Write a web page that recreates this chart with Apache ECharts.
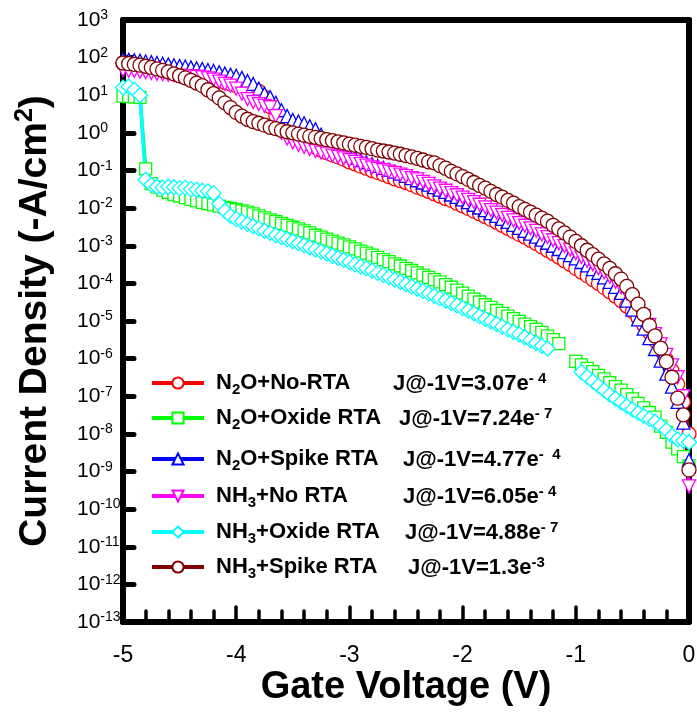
<!DOCTYPE html>
<html>
<head>
<meta charset="utf-8">
<title>Current Density vs Gate Voltage</title>
<script src="https://cdn.jsdelivr.net/npm/echarts@6/dist/echarts.min.js"></script>
<style>
  html, body { margin: 0; padding: 0; background: #fff; }
  #chart { width: 697px; height: 713px; }
</style>
</head>
<body>
<div id="chart"></div>
<script>
/* ---------- data (A/cm2) ---------- */
const voltage = [
  -5.00, -4.95, -4.90, -4.85, -4.80, -4.75, -4.70, -4.65, -4.60, -4.55,
  -4.50, -4.45, -4.40, -4.35, -4.30, -4.25, -4.20, -4.15, -4.10, -4.05,
  -4.00, -3.95, -3.90, -3.85, -3.80, -3.75, -3.70, -3.65, -3.60, -3.55,
  -3.50, -3.45, -3.40, -3.35, -3.30, -3.25, -3.20, -3.15, -3.10, -3.05,
  -3.00, -2.95, -2.90, -2.85, -2.80, -2.75, -2.70, -2.65, -2.60, -2.55,
  -2.50, -2.45, -2.40, -2.35, -2.30, -2.25, -2.20, -2.15, -2.10, -2.05,
  -2.00, -1.95, -1.90, -1.85, -1.80, -1.75, -1.70, -1.65, -1.60, -1.55,
  -1.50, -1.45, -1.40, -1.35, -1.30, -1.25, -1.20, -1.15, -1.10, -1.05,
  -1.00, -0.95, -0.90, -0.85, -0.80, -0.75, -0.70, -0.65, -0.60, -0.55,
  -0.50, -0.45, -0.40, -0.35, -0.30, -0.25, -0.20, -0.15, -0.10, -0.05,
  0
];

const n2oNoRta = [
  71, 68, 65, 62, 59, 56, 54, 51, 49, 46,
  43, 40, 37, 35, 32, 29, 26, 24, 22, 20,
  18, 17, 15, 14, 12.6, 8.9, 5.0, 2.8, 1.8, 1.26,
  0.95, 0.76, 0.60, 0.50, 0.42, 0.35, 0.30, 0.26, 0.23, 0.20,
  0.17, 0.15, 0.13, 0.115, 0.10, 0.089, 0.079, 0.069, 0.060, 0.054,
  0.048, 0.042, 0.036, 0.032, 0.028, 0.024, 0.021, 0.018, 0.016, 0.0135,
  0.0115, 9.8e-3, 8.3e-3, 7.1e-3, 6.0e-3, 5.0e-3, 4.2e-3, 3.5e-3, 2.9e-3, 2.4e-3,
  2.0e-3, 1.7e-3, 1.4e-3, 1.15e-3, 9.3e-4, 7.6e-4, 6.2e-4, 5.0e-4, 4.0e-4, 3.2e-4,
  2.5e-4, 2.0e-4, 1.6e-4, 1.26e-4, 1.0e-4, 7.8e-5, 6.0e-5, 4.6e-5, 3.5e-5, 2.5e-5,
  1.8e-5, 1.2e-5, 7.9e-6, 5.0e-6, 3.0e-6, 1.7e-6, 9.5e-7, 4.8e-7, 2.1e-7, 7.1e-8,
  1.0e-8
];

const n2oOxideRta = [
  9.5, 9.2, 9.0, 8.8, 0.11, 0.045, 0.036, 0.030, 0.026, 0.023,
  0.021, 0.019, 0.017, 0.0155, 0.0142, 0.0132, 0.0122, 0.0113, 0.0105, 0.0098,
  0.0092, 0.0085, 0.0078, 0.0070, 0.0062, 0.0055, 0.0049, 0.0044, 0.0039, 0.0035,
  0.0031, 0.0028, 0.0025, 0.0022, 0.0019, 0.0017, 1.5e-3, 1.32e-3, 1.17e-3, 1.05e-3,
  9.3e-4, 8.3e-4, 7.2e-4, 6.4e-4, 5.6e-4, 4.9e-4, 4.3e-4, 3.8e-4, 3.3e-4, 2.9e-4,
  2.5e-4, 2.2e-4, 1.9e-4, 1.66e-4, 1.45e-4, 1.26e-4, 1.1e-4, 9.3e-5, 7.9e-5, 6.6e-5,
  5.5e-5, 4.6e-5, 3.8e-5, 3.2e-5, 2.7e-5, 2.3e-5, 1.9e-5, 1.6e-5, 1.35e-5, 1.15e-5,
  9.8e-6, 8.3e-6, 7.1e-6, 6.0e-6, 5.0e-6, 4.0e-6, 3.2e-6, 2.5e-6, null, null,
  8.5e-7, 6.8e-7, 5.5e-7, 4.5e-7, 3.6e-7, 2.9e-7, 2.3e-7, 1.8e-7, 1.45e-7, 1.1e-7,
  8.5e-8, 6.5e-8, 4.9e-8, 3.7e-8, 2.8e-8, 1.6e-8, 1.1e-8, 6.0e-9, 4.0e-9, 2.5e-9,
  1.4e-9
];

const n2oSpikeRta = [
  89, 87, 85, 83, 79, 76, 72, 69, 66, 63,
  60, 58, 55, 52, 50, 47, 44, 41, 38, 35,
  33, 29, 24, 20, 15, 11, 8.9, 6.3, 4.0, 2.8,
  2.2, 2.0, 1.8, 1.5, 1.26, 0.89, 0.63, 0.48, 0.38, 0.30,
  0.25, 0.22, 0.19, 0.166, 0.148, 0.132, 0.117, 0.105, 0.093, 0.083,
  0.072, 0.063, 0.055, 0.048, 0.042, 0.036, 0.031, 0.027, 0.023, 0.020,
  0.017, 0.0145, 0.0123, 0.0104, 8.8e-3, 7.4e-3, 6.2e-3, 5.2e-3, 4.3e-3, 3.6e-3,
  3.0e-3, 2.5e-3, 2.1e-3, 1.75e-3, 1.45e-3, 1.2e-3, 1.0e-3, 8.2e-4, 6.8e-4, 5.6e-4,
  4.6e-4, 3.7e-4, 3.0e-4, 2.4e-4, 1.9e-4, 1.45e-4, 1.1e-4, 8.1e-5, 5.6e-5, 3.5e-5,
  2.0e-5, 1.1e-5, 6.3e-6, 3.5e-6, 1.8e-6, 8.9e-7, 4.0e-7, 1.8e-7, 7.1e-8, 2.0e-8,
  2.0e-9
];

const nh3NoRta = [
  47, 45, 44, 42, 41, 39, 37, 36, 35, 34,
  33, 32, 32, 31, 30, 28, 26, 23, 20, 18,
  15, 11, 7.9, 6.6, 5.8, 5.2, 4.8, 2.8, 1.0, 0.71,
  0.56, 0.48, 0.42, 0.37, 0.33, 0.30, 0.28, 0.25, 0.23, 0.21,
  0.19, 0.17, 0.15, 0.135, 0.12, 0.11, 0.102, 0.093, 0.087, 0.078,
  0.071, 0.063, 0.058, 0.050, 0.044, 0.038, 0.033, 0.029, 0.025, 0.022,
  0.019, 0.0166, 0.0145, 0.0123, 0.0105, 8.9e-3, 7.6e-3, 6.5e-3, 5.5e-3, 4.7e-3,
  4.0e-3, 3.4e-3, 2.9e-3, 2.5e-3, 2.0e-3, 1.7e-3, 1.4e-3, 1.17e-3, 9.8e-4, 7.9e-4,
  6.3e-4, 5.0e-4, 4.0e-4, 3.2e-4, 2.5e-4, 1.95e-4, 1.5e-4, 1.1e-4, 7.9e-5, 5.4e-5,
  3.5e-5, 2.2e-5, 1.35e-5, 7.9e-6, 4.5e-6, 2.4e-6, 1.26e-6, 6.6e-7, 3.2e-7, 1.0e-7,
  4.0e-10
];

const nh3OxideRta = [
  16, 17, 14, 10, 0.057, 0.042, 0.037, 0.035, 0.037, 0.036,
  0.034, 0.035, 0.032, 0.031, 0.029, 0.028, 0.025, 0.013, 0.0085, 0.0062,
  0.0051, 0.0044, 0.0038, 0.0033, 0.0029, 0.0025, 0.0022, 0.0019, 0.0017, 0.0015,
  1.32e-3, 1.17e-3, 1.03e-3, 9.1e-4, 8.0e-4, 7.0e-4, 6.2e-4, 5.4e-4, 4.8e-4, 4.2e-4,
  3.7e-4, 3.2e-4, 2.8e-4, 2.5e-4, 2.2e-4, 1.9e-4, 1.66e-4, 1.45e-4, 1.26e-4, 1.1e-4,
  9.5e-5, 8.3e-5, 7.2e-5, 6.3e-5, 5.4e-5, 4.7e-5, 4.0e-5, 3.5e-5, 3.0e-5, 2.6e-5,
  2.2e-5, 1.9e-5, 1.6e-5, 1.35e-5, 1.15e-5, 9.8e-6, 8.3e-6, 7.1e-6, 6.0e-6, 5.1e-6,
  4.4e-6, 3.7e-6, 3.1e-6, 2.6e-6, 2.2e-6, 1.85e-6, null, null, null, null,
  null, 4.4e-7, 3.3e-7, 2.5e-7, 1.9e-7, 1.45e-7, 1.1e-7, 8.7e-8, 6.9e-8, 5.5e-8,
  4.5e-8, 3.6e-8, 3.0e-8, 2.5e-8, 2.1e-8, 1.66e-8, 1.26e-8, 8.9e-9, 7.2e-9, 6.6e-9,
  6.0e-9
];

const nh3SpikeRta = [
  72, 69, 66, 63, 59, 55, 50, 46, 42, 37,
  33, 29, 25, 21, 18, 14, 11, 8.5, 6.3, 4.7,
  3.5, 2.8, 2.3, 2.0, 1.8, 1.6, 1.4, 1.3, 1.17, 1.07,
  1.0, 0.93, 0.87, 0.81, 0.76, 0.71, 0.66, 0.62, 0.58, 0.54,
  0.50, 0.47, 0.44, 0.41, 0.38, 0.35, 0.33, 0.31, 0.29, 0.27,
  0.25, 0.23, 0.21, 0.19, 0.17, 0.16, 0.135, 0.115, 0.095, 0.081,
  0.069, 0.058, 0.048, 0.040, 0.034, 0.028, 0.023, 0.0195, 0.016, 0.0135,
  0.011, 9.3e-3, 7.8e-3, 6.5e-3, 5.4e-3, 4.5e-3, 3.5e-3, 2.8e-3, 2.2e-3, 1.7e-3,
  1.3e-3, 1.0e-3, 7.6e-4, 5.8e-4, 4.4e-4, 3.3e-4, 2.5e-4, 1.8e-4, 1.3e-4, 8.3e-5,
  5.0e-5, 2.8e-5, 1.5e-5, 7.6e-6, 4.0e-6, 1.9e-6, 8.3e-7, 3.2e-7, 8.9e-8, 3.2e-8,
  1.1e-9
];

const seriesNames = ['N2O+No-RTA', 'N2O+Oxide RTA', 'N2O+Spike RTA', 'NH3+No RTA', 'NH3+Oxide RTA', 'NH3+Spike RTA'];
const seriesValues = [n2oNoRta, n2oOxideRta, n2oSpikeRta, nh3NoRta, nh3OxideRta, nh3SpikeRta];
// J@-1V annotation: [main text, superscript]
const jLabels = [
  ['J@-1V=3.07e', '- 4'],
  ['J@-1V=7.24e', '- 7'],
  ['J@-1V=4.77e', '-  4'],
  ['J@-1V=6.05e', '- 4'],
  ['J@-1V=4.88e', '- 7'],
  ['J@-1V=1.3e', '-3']
];

/* ---------- styles ---------- */
const FONT = "'Liberation Sans', Arial, sans-serif";
const colors = ['#ff0000', '#00ff00', '#0000ff', '#ff00ff', '#00ffff', '#800000'];
const symbols = ['circle', 'rect', 'triangle', 'triangle', 'diamond', 'circle'];
const symbolSizes = [14, 12, 13, 13, 15, 14];
const symbolRotates = [0, 0, 0, 180, 0, 0];
const legendRowY = [383, 418, 459, 496, 532, 567];
const jLabelX = [393, 399, 403, 403, 405, 408];

// "N2O+..." -> rich text with subscript digit
function richName(name) {
  return name.split(/(\d)/).map((part, i) => {
    if (!part) return '';
    return i % 2 ? `{s|${part}}` : `{n|${part}}`;
  }).join('');
}

const legendRich = {
  n: { fontSize: 22, fontWeight: 'bold', fontFamily: FONT, color: '#000', lineHeight: 28 },
  s: { fontSize: 15, fontWeight: 'bold', fontFamily: FONT, color: '#000', lineHeight: 28, verticalAlign: 'bottom' }
};

const chart = echarts.init(document.getElementById('chart'), null, { renderer: 'canvas' });

const series = seriesNames.map((name, i) => ({
  name,
  type: 'line',
  xAxisIndex: 0,
  yAxisIndex: 0,
  data: voltage.map((v, k) => [v, seriesValues[i][k]]),
  symbol: symbols[i],
  symbolSize: symbolSizes[i],
  symbolRotate: symbolRotates[i],
  showSymbol: true,
  showAllSymbol: true,
  connectNulls: false,
  clip: false,
  z: 5,
  lineStyle: { color: colors[i], width: 3.5 },
  itemStyle: { color: '#fff', borderColor: colors[i], borderWidth: 1.3 },
  emphasis: { disabled: true },
  animation: false
}));

const legends = seriesNames.map((name, i) => ({
  data: [name],
  left: 150,
  top: legendRowY[i] - 11,
  orient: 'vertical',
  padding: 0,
  itemGap: 0,
  itemWidth: 52,
  itemHeight: 14,
  selectedMode: false,
  lineStyle: { width: 4 },
  formatter: richName,
  textStyle: { padding: [0, 0, 0, 7], rich: legendRich }
}));

const graphics = jLabels.map((lab, i) => ({
  type: 'text',
  left: jLabelX[i],
  top: legendRowY[i] - 12,
  z: 100,
  style: {
    text: `{j|${lab[0]}}{e|${lab[1]}}`,
    rich: {
      j: { fontSize: 22, fontWeight: 'bold', fontFamily: FONT, fill: '#000', lineHeight: 25 },
      e: { fontSize: 15, fontWeight: 'bold', fontFamily: FONT, fill: '#000', lineHeight: 25, verticalAlign: 'top' }
    }
  }
}));

const frameLine = { show: true, onZero: false, lineStyle: { color: '#000', width: 6 } };

chart.setOption({
  animation: false,
  backgroundColor: '#fff',
  grid: {
    left: 123, right: 8, top: 20, bottom: 91,
    show: false,
    containLabel: false, outerBoundsMode: 'none'
  },
  xAxis: [{
    type: 'value',
    position: 'bottom',
    min: -5, max: 0, interval: 1,
    name: 'Gate Voltage (V)',
    nameLocation: 'middle',
    nameGap: 47,
    nameMoveOverlap: false,
    nameTextStyle: { fontSize: 38, fontWeight: 'bold', fontFamily: FONT, color: '#000' },
    axisLine: frameLine,
    axisTick: { show: true, inside: true, length: 15, lineStyle: { color: '#000', width: 3.5, cap: 'round' } },
    minorTick: { show: true, splitNumber: 5, length: 11, lineStyle: { color: '#000', width: 3.5, cap: 'round' } },
    splitLine: { show: false },
    minorSplitLine: { show: false },
    axisLabel: { fontSize: 23, fontFamily: FONT, color: '#000', margin: 22 }
  }, {
    type: 'value',
    position: 'top',
    min: -5, max: 0,
    axisLine: frameLine,
    axisTick: { show: false },
    axisLabel: { show: false },
    splitLine: { show: false }
  }],
  yAxis: [{
    type: 'log',
    position: 'left',
    logBase: 10,
    min: 1e-13, max: 1e3,
    interval: 1,
    splitNumber: 16,
    name: '{t|Current Density (-A/cm}{u|2}{t|)}',
    nameLocation: 'middle',
    nameRotate: 90,
    nameGap: 66,
    nameMoveOverlap: false,
    nameTextStyle: {
      rich: {
        t: { fontSize: 39, fontWeight: 'bold', fontFamily: FONT, color: '#000', lineHeight: 44 },
        u: { fontSize: 25, fontWeight: 'bold', fontFamily: FONT, color: '#000', lineHeight: 44, verticalAlign: 'top' }
      }
    },
    axisLine: frameLine,
    axisTick: { show: true, inside: true, length: 11, lineStyle: { color: '#000', width: 5, cap: 'round' } },
    minorTick: { show: false },
    splitLine: { show: false },
    axisLabel: {
      align: 'left',
      margin: 46,
      hideOverlap: false,
      formatter: v => `{a|10}{e|${Math.round(Math.log10(v))}}`,
      rich: {
        a: { fontSize: 21, fontFamily: FONT, color: '#000', lineHeight: 23 },
        e: { fontSize: 14, fontFamily: FONT, color: '#000', lineHeight: 23, verticalAlign: 'top' }
      }
    }
  }, {
    type: 'value',
    position: 'right',
    min: 0, max: 1,
    axisLine: frameLine,
    axisTick: { show: false },
    axisLabel: { show: false },
    splitLine: { show: false }
  }],
  legend: legends,
  graphic: graphics,
  series
});
</script>
</body>
</html>
